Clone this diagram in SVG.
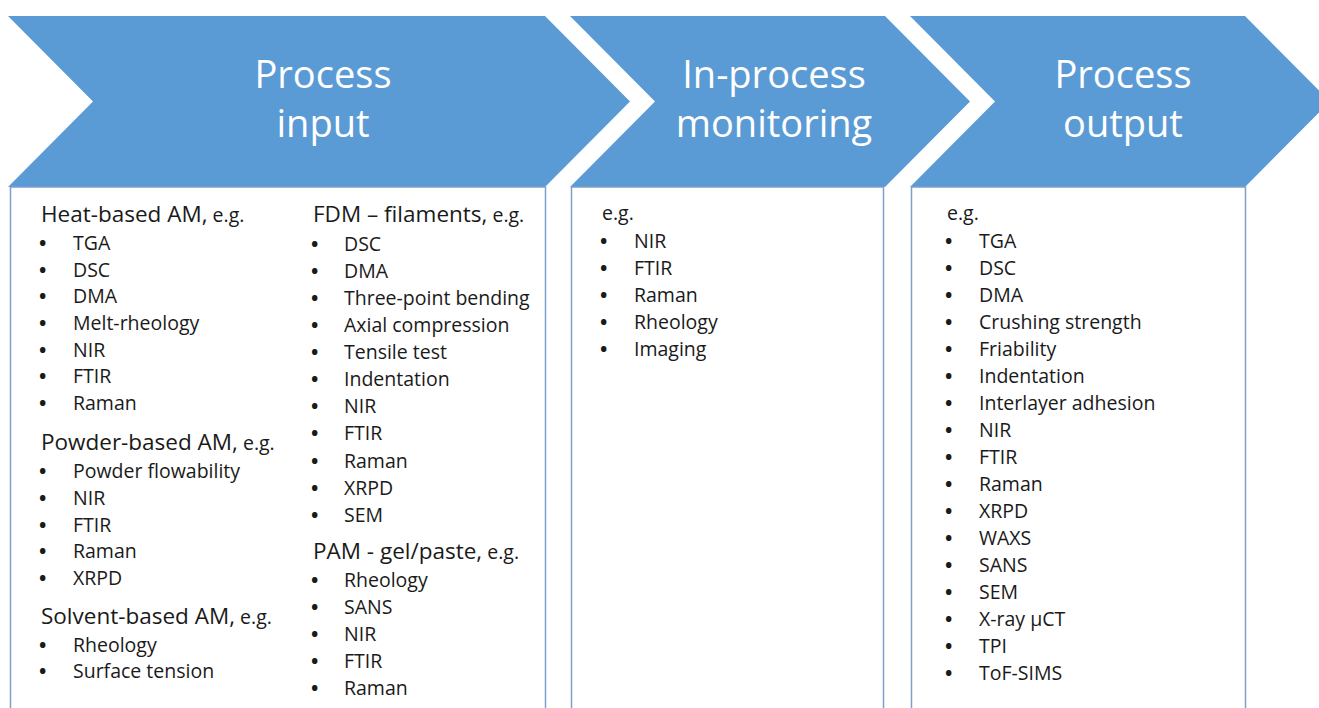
<svg xmlns="http://www.w3.org/2000/svg" width="1319" height="708" viewBox="0 0 1319 708">
<style>
.chev{fill:#5B9BD5}
.box{fill:#ffffff;stroke:#7E9FCB;stroke-width:1.5}
.title{font-family:"Open Sans","Noto Sans",sans-serif;font-size:38px;fill:#ffffff;text-anchor:middle}
.t{font-family:"Open Sans","Noto Sans",sans-serif;font-size:19.5px;fill:#1a1a1a}
.h{font-size:22.5px}
.eg{font-size:19.5px}
.b{font-weight:700}
</style>
<rect width="1319" height="708" fill="#ffffff"/>
<g id="input">
<polygon class="chev" points="8,16 545,16 630,101.5 545,187 8,187 93,101.5"/>
<rect class="box" x="10.5" y="187" width="535" height="540"/>
<text class="title" x="323" y="88">Process</text>
<text class="title" x="323" y="137">input</text>
<g class="t">
<text x="41" y="222"><tspan class="h">Heat-based AM,</tspan> <tspan class="eg">e.g.</tspan></text>
<text y="250"><tspan class="b" x="39">•</tspan><tspan x="73">TGA</tspan></text>
<text y="276.7"><tspan class="b" x="39">•</tspan><tspan x="73">DSC</tspan></text>
<text y="303.3"><tspan class="b" x="39">•</tspan><tspan x="73">DMA</tspan></text>
<text y="330"><tspan class="b" x="39">•</tspan><tspan x="73">Melt-rheology</tspan></text>
<text y="356.7"><tspan class="b" x="39">•</tspan><tspan x="73">NIR</tspan></text>
<text y="383.3"><tspan class="b" x="39">•</tspan><tspan x="73">FTIR</tspan></text>
<text y="410"><tspan class="b" x="39">•</tspan><tspan x="73">Raman</tspan></text>
<text x="41" y="449.5"><tspan class="h">Powder-based AM,</tspan> <tspan class="eg">e.g.</tspan></text>
<text y="478"><tspan class="b" x="39">•</tspan><tspan x="73">Powder flowability</tspan></text>
<text y="504.7"><tspan class="b" x="39">•</tspan><tspan x="73">NIR</tspan></text>
<text y="531.5"><tspan class="b" x="39">•</tspan><tspan x="73">FTIR</tspan></text>
<text y="558.2"><tspan class="b" x="39">•</tspan><tspan x="73">Raman</tspan></text>
<text y="585"><tspan class="b" x="39">•</tspan><tspan x="73">XRPD</tspan></text>
<text x="41" y="624"><tspan class="h">Solvent-based AM,</tspan> <tspan class="eg">e.g.</tspan></text>
<text y="651.7"><tspan class="b" x="39">•</tspan><tspan x="73">Rheology</tspan></text>
<text y="678.4"><tspan class="b" x="39">•</tspan><tspan x="73">Surface tension</tspan></text>
<text x="313" y="222"><tspan class="h">FDM – filaments,</tspan> <tspan class="eg">e.g.</tspan></text>
<text y="250.7"><tspan class="b" x="311">•</tspan><tspan x="344">DSC</tspan></text>
<text y="277.8"><tspan class="b" x="311">•</tspan><tspan x="344">DMA</tspan></text>
<text y="304.9"><tspan class="b" x="311">•</tspan><tspan x="344">Three-point  bending</tspan></text>
<text y="332"><tspan class="b" x="311">•</tspan><tspan x="344">Axial compression</tspan></text>
<text y="359.1"><tspan class="b" x="311">•</tspan><tspan x="344">Tensile test</tspan></text>
<text y="386.2"><tspan class="b" x="311">•</tspan><tspan x="344">Indentation</tspan></text>
<text y="413.3"><tspan class="b" x="311">•</tspan><tspan x="344">NIR</tspan></text>
<text y="440.4"><tspan class="b" x="311">•</tspan><tspan x="344">FTIR</tspan></text>
<text y="467.5"><tspan class="b" x="311">•</tspan><tspan x="344">Raman</tspan></text>
<text y="494.6"><tspan class="b" x="311">•</tspan><tspan x="344">XRPD</tspan></text>
<text y="521.7"><tspan class="b" x="311">•</tspan><tspan x="344">SEM</tspan></text>
<text x="313" y="559"><tspan class="h">PAM - gel/paste,</tspan> <tspan class="eg">e.g.</tspan></text>
<text y="587"><tspan class="b" x="311">•</tspan><tspan x="344">Rheology</tspan></text>
<text y="614"><tspan class="b" x="311">•</tspan><tspan x="344">SANS</tspan></text>
<text y="641"><tspan class="b" x="311">•</tspan><tspan x="344">NIR</tspan></text>
<text y="668"><tspan class="b" x="311">•</tspan><tspan x="344">FTIR</tspan></text>
<text y="695"><tspan class="b" x="311">•</tspan><tspan x="344">Raman</tspan></text>
</g>
</g>
<g id="monitoring">
<polygon class="chev" points="570,16 885,16 970,101.5 885,187 570,187 655,101.5"/>
<rect class="box" x="571.5" y="187" width="312" height="540"/>
<text class="title" x="774" y="88">In-process</text>
<text class="title" x="774" y="137">monitoring</text>
<g class="t">
<text x="602" y="220">e.g.</text>
<text y="248"><tspan class="b" x="600">•</tspan><tspan x="634">NIR</tspan></text>
<text y="275"><tspan class="b" x="600">•</tspan><tspan x="634">FTIR</tspan></text>
<text y="302"><tspan class="b" x="600">•</tspan><tspan x="634">Raman</tspan></text>
<text y="329"><tspan class="b" x="600">•</tspan><tspan x="634">Rheology</tspan></text>
<text y="356"><tspan class="b" x="600">•</tspan><tspan x="634">Imaging</tspan></text>
</g>
</g>
<g id="output">
<polygon class="chev" points="910,16 1245,16 1330,101.5 1245,187 910,187 995,101.5"/>
<rect class="box" x="911.5" y="187" width="334" height="540"/>
<text class="title" x="1123" y="88">Process</text>
<text class="title" x="1123" y="137">output</text>
<g class="t">
<text x="947" y="220">e.g.</text>
<text y="248.3"><tspan class="b" x="945">•</tspan><tspan x="979">TGA</tspan></text>
<text y="275.3"><tspan class="b" x="945">•</tspan><tspan x="979">DSC</tspan></text>
<text y="302.3"><tspan class="b" x="945">•</tspan><tspan x="979">DMA</tspan></text>
<text y="329.3"><tspan class="b" x="945">•</tspan><tspan x="979">Crushing strength</tspan></text>
<text y="356.3"><tspan class="b" x="945">•</tspan><tspan x="979">Friability</tspan></text>
<text y="383.3"><tspan class="b" x="945">•</tspan><tspan x="979">Indentation</tspan></text>
<text y="410.3"><tspan class="b" x="945">•</tspan><tspan x="979">Interlayer adhesion</tspan></text>
<text y="437.3"><tspan class="b" x="945">•</tspan><tspan x="979">NIR</tspan></text>
<text y="464.3"><tspan class="b" x="945">•</tspan><tspan x="979">FTIR</tspan></text>
<text y="491.3"><tspan class="b" x="945">•</tspan><tspan x="979">Raman</tspan></text>
<text y="518.3"><tspan class="b" x="945">•</tspan><tspan x="979">XRPD</tspan></text>
<text y="545.3"><tspan class="b" x="945">•</tspan><tspan x="979">WAXS</tspan></text>
<text y="572.3"><tspan class="b" x="945">•</tspan><tspan x="979">SANS</tspan></text>
<text y="599.3"><tspan class="b" x="945">•</tspan><tspan x="979">SEM</tspan></text>
<text y="626.3"><tspan class="b" x="945">•</tspan><tspan x="979">X-ray µCT</tspan></text>
<text y="653.3"><tspan class="b" x="945">•</tspan><tspan x="979">TPI</tspan></text>
<text y="680.3"><tspan class="b" x="945">•</tspan><tspan x="979">ToF-SIMS</tspan></text>
</g>
</g>
<g id="connectors"/>
</svg>
